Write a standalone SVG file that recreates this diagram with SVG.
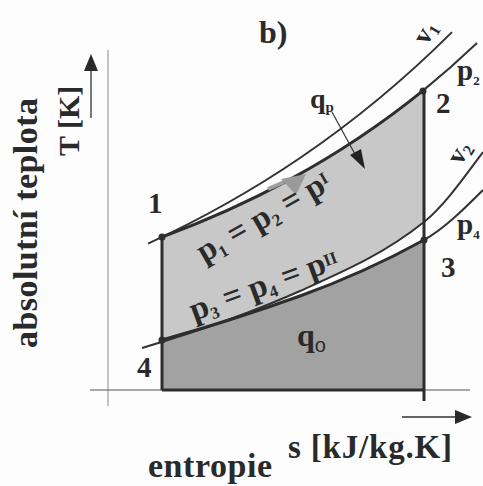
<svg xmlns="http://www.w3.org/2000/svg" width="483" height="486" viewBox="0 0 483 486">
<defs>
<style>
.t{font-family:"Liberation Serif","Times New Roman",serif;font-weight:bold;fill:#2a2a2a}
.thick{fill:none;stroke:#2e2e2e;stroke-width:3}
.thin{fill:none;stroke:#333;stroke-width:2}
.dot{fill:#2e2e2e}
</style>
<clipPath id="box"><rect x="162" y="0" width="262" height="390"/></clipPath>
</defs>
<rect width="483" height="486" fill="#fdfdfd"/>
<g id="fills" clip-path="url(#box)">
<path id="light" fill="#c8c8c8" d="M162,237 C204.67,221.27 247.33,202.51 290,179.35 C334.33,155.29 378.67,126.55 423,90.6 L424,90.6 L424,222 C382.67,255.07 341.33,272.4 300,291 C247.33,314.7 194.67,332.2 142,348 L142,237 Z"/>
<path id="dark" fill="#a2a2a2" d="M162,340 C208,327.12 254,312.56 300,296 C341.33,281.12 382.67,262.73 424,240 L424,390 L162,390 Z"/>
</g>
<g id="axes">
<line x1="108" y1="50" x2="108" y2="406" stroke="#8a8a8a" stroke-width="1"/>
<line x1="90" y1="390" x2="470" y2="390" stroke="#555" stroke-width="1.2"/>
<line x1="91" y1="118" x2="91" y2="68" stroke="#333" stroke-width="1.3"/>
<polygon points="91,54 84,71 98,71" fill="#2a2a2a"/>
<line x1="402" y1="417" x2="458" y2="417" stroke="#333" stroke-width="1.3"/>
<polygon points="472,417 455,410 455,424" fill="#2a2a2a"/>
</g>
<g id="connectors">
<path id="v1" class="thin" d="M148,243.58 C198.67,220.18 249.33,192.34 300,157.96 C350.67,123.58 401.33,82.66 452,32.14"/>
<path id="isobar12" class="thick" d="M162,237 C204.67,221.27 247.33,202.51 290,179.35 C334.33,155.29 378.67,126.55 423,90.6"/>
<path id="isobar2ext" class="thin" d="M423,90.6 C441,76 459,60.18 477,43"/>
<path id="v2" class="thin" d="M142,348 C194.67,332.2 247.33,314.7 300,291 C341.33,272.4 382.67,255.07 424,222 C443.67,206.27 463.33,178.55 483,152"/>
<path id="isobar43" class="thick" d="M162,340 C208,327.12 254,312.56 300,296 C341.33,281.12 382.67,262.73 424,240"/>
<path id="isobar3ext" class="thin" d="M424,240 C443.67,229.18 463.33,209.67 483,190"/>
<line x1="162" y1="237" x2="162" y2="390" class="thick"/>
<line x1="424" y1="90" x2="424" y2="401" class="thick"/>
<line x1="162" y1="390" x2="424" y2="390" class="thick"/>
<line x1="268" y1="189" x2="284" y2="182" stroke="#a0a0a0" stroke-width="4"/>
<polygon points="281,179 306,174 296,195" fill="#9a9a9a"/>
<line x1="332" y1="112" x2="356" y2="156" stroke="#333" stroke-width="1.2"/>
<polygon points="365,169 350,155 361,149" fill="#222"/>
</g>
<g id="points">
<circle class="dot" cx="162" cy="237" r="3.5"/>
<circle class="dot" cx="423" cy="91" r="3.5"/>
<circle class="dot" cx="424" cy="240" r="3.5"/>
<circle class="dot" cx="162" cy="340" r="3.5"/>
</g>
<g id="labels">
<text class="t" x="259" y="43" font-size="32">b)</text>
<text class="t" font-size="30" transform="translate(79,156) rotate(-90)">T [K]</text>
<text class="t" font-size="34" transform="translate(37,348) rotate(-90)" textLength="250">absolutní teplota</text>
<text class="t" x="148" y="477" font-size="34" textLength="124">entropie</text>
<text class="t" x="288" y="458" font-size="33" textLength="164">s [kJ/kg.K]</text>
<text class="t" x="148" y="213" font-size="29">1</text>
<text class="t" x="436" y="113" font-size="29">2</text>
<text class="t" x="441" y="277" font-size="29">3</text>
<text class="t" x="137" y="377" font-size="29">4</text>
<text class="t" x="310" y="108" font-size="28">q<tspan font-size="15" dy="4">p</tspan></text>
<text class="t" x="297" y="346" font-size="32">q<tspan font-size="20" font-weight="normal" font-family="Liberation Sans, sans-serif" dy="6">o</tspan></text>
<text class="t" x="457" y="80" font-size="29">p<tspan font-size="13" dy="5">2</tspan></text>
<text class="t" x="457" y="234" font-size="29">p<tspan font-size="13" dy="5">4</tspan></text>
<text class="t" font-size="27" transform="translate(427,46) rotate(-60)">v<tspan font-size="16" dy="4">1</tspan></text>
<text class="t" font-size="27" transform="translate(461,166) rotate(-60)">v<tspan font-size="16" dy="4">2</tspan></text>
<text class="t" font-size="33" transform="translate(204,263) rotate(-30)">p<tspan font-size="17" dy="5">1</tspan><tspan dy="-5"> = p</tspan><tspan font-size="17" dy="5">2</tspan><tspan dy="-5"> = p</tspan><tspan font-size="17" dy="-8">I</tspan></text>
<text class="t" font-size="33" transform="translate(194,321) rotate(-20)">p<tspan font-size="17" dy="5">3</tspan><tspan dy="-5"> = p</tspan><tspan font-size="17" dy="5">4</tspan><tspan dy="-5"> = p</tspan><tspan font-size="17" dy="-6">II</tspan></text>
</g>
</svg>
